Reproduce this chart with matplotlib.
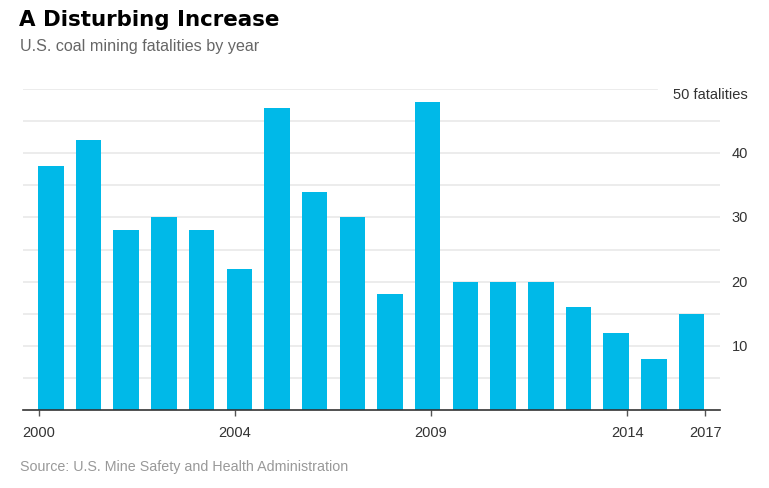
import matplotlib
matplotlib.use("Agg")
import matplotlib.pyplot as plt

years = list(range(2000, 2018))
fatalities = [38, 42, 28, 30, 28, 22, 47, 34, 30, 18, 48, 20, 20, 20, 16, 12, 8, 15]
tick_labels = ["2000", "2004", "2009", "2014", "2017"]
tick_pos = [-0.31, 4.89, 10.08, 15.29, 17.36]  # positions in bar-index units
y_grid = [5, 10, 15, 20, 25, 30, 35, 40, 45, 50]
y_labels = {10: "10", 20: "20", 30: "30", 40: "40", 50: "50 fatalities"}

W, H = 769, 489
fig = plt.figure(figsize=(W / 100, H / 100), dpi=100)
ax = fig.add_axes([23 / W, 1 - 411 / H, (720 - 23) / W, (411 - 90) / H])

x = list(range(len(years)))
ax.set_xlim(-0.738, 17.755)
ax.set_ylim(0, 50)

for g in y_grid:
    xmax = 1.0
    if g == 50:
        xmax = (657 - 23) / (720 - 23)
    ax.axhline(g, xmin=0, xmax=xmax, color="#ebebeb", lw=1.3, zorder=1)

ax.bar(x, fatalities, width=0.677, color="#00b9e8", zorder=2)

for s in ["top", "right", "left"]:
    ax.spines[s].set_visible(False)
ax.spines["bottom"].set_color("#333333")
ax.spines["bottom"].set_linewidth(1.2)
ax.spines["bottom"].set_zorder(3)

ax.set_yticks([])
ax.set_xticks(tick_pos)
ax.set_xticklabels(tick_labels, fontsize=10.5, color="#333333", family="Liberation Sans")
ax.tick_params(axis="x", length=4, width=1, color="#555555", pad=7)

for v, lab in y_labels.items():
    dy = 5 if v == 50 else 0
    ax.annotate(lab, xy=(1, v), xycoords=("axes fraction", "data"),
                xytext=(28, -dy), textcoords="offset pixels",
                ha="right", va="center", fontsize=10.5, color="#333333",
                family="Liberation Sans")

fig.text(19 / W, 1 - 20 / H, "A Disturbing Increase", fontsize=15.4,
         fontweight="heavy", family="DejaVu Sans", color="#000000", va="center", ha="left")
fig.text(20 / W, 1 - 46 / H, "U.S. coal mining fatalities by year", fontsize=11.6,
         family="Liberation Sans", color="#666666", va="center", ha="left")
fig.text(20 / W, 1 - 467 / H, "Source: U.S. Mine Safety and Health Administration",
         fontsize=10.25, family="Liberation Sans", color="#999999", va="center", ha="left")

fig.savefig("out.png", dpi=100)
